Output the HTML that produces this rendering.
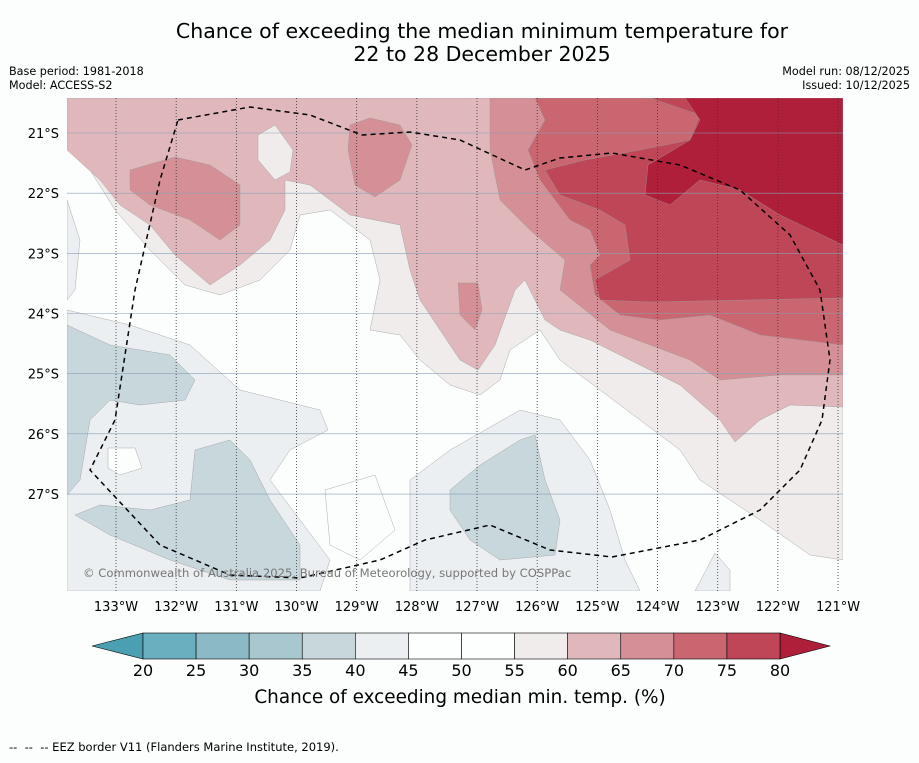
<!DOCTYPE html>
<html><head><meta charset="utf-8"><style>
body{margin:0;background:#fcfefe;font-family:"Liberation Sans",sans-serif;}
svg text{font-family:"DejaVu Sans","Liberation Sans",sans-serif;}
</style></head><body>
<svg id="s" width="919" height="758" xmlns="http://www.w3.org/2000/svg">
<rect width="919" height="758" fill="#fcfefe"/>
<text x="482" y="38" text-anchor="middle" font-size="20.5" fill="#000">Chance of exceeding the median minimum temperature for</text>
<text x="482" y="61" text-anchor="middle" font-size="20.5" fill="#000">22 to 28 December 2025</text>
<text x="9" y="75" font-size="11.2">Base period: 1981-2018</text>
<text x="9" y="89" font-size="11.2">Model: ACCESS-S2</text>
<text x="910" y="75" font-size="11.2" text-anchor="end">Model run: 08/12/2025</text>
<text x="910" y="89" font-size="11.2" text-anchor="end">Issued: 10/12/2025</text>
<defs><clipPath id="mc"><rect x="67" y="98" width="776" height="493"/></clipPath></defs>
<g id="map" clip-path="url(#mc)">
<rect x="67" y="98" width="776" height="493" fill="#fcfefe"/>
<g stroke="#999" stroke-width="0.4">
<polygon fill="#ebeff1" points="67,310 130,325 190,345 240,390 320,410 328,430 290,450 270,480 300,520 330,560 320,591 67,591"/>
<polygon fill="#ebeff1" points="67,200 80,240 75,290 67,300"/>
<polygon fill="#ebeff1" points="410,480 450,450 520,410 560,420 590,460 610,510 625,560 640,591 410,591"/>
<polygon fill="#ebeff1" points="695,591 715,553 730,570 730,591"/>
<polygon fill="#fcfefe" points="108,448 135,448 142,468 120,475 108,468"/>
<polygon fill="#fcfefe" points="325,490 375,475 395,530 360,560 330,545"/>
<polygon fill="#c8d7dc" points="67,325 110,345 170,355 195,380 185,400 140,405 110,400 90,420 80,480 67,495"/>
<polygon fill="#c8d7dc" points="75,515 100,505 150,510 190,500 195,450 230,440 250,460 270,500 300,545 300,580 230,580 170,560 110,535"/>
<polygon fill="#c8d7dc" points="450,490 480,465 520,440 535,435 545,480 560,520 555,555 500,560 470,540 450,510"/>
<polygon fill="#efeceb" points="67,125 90,170 115,210 150,250 185,285 220,295 260,280 290,250 300,215 330,210 370,240 380,280 370,330 400,335 420,360 450,385 480,395 500,380 510,350 540,330 560,360 600,390 640,420 680,450 700,480 760,520 810,555 843,560 843,98 67,98"/>
<polygon fill="#e0b8bc" points="67,98 67,150 100,180 120,205 150,225 175,255 210,285 240,265 270,240 285,210 285,180 310,185 350,215 400,225 410,270 420,300 440,330 460,360 478,370 495,345 515,290 525,280 545,320 560,330 590,340 630,360 680,385 720,420 735,442 760,420 790,405 843,407 843,98"/>
<polygon fill="#efeceb" points="258,135 275,125 293,150 290,172 275,180 258,160"/>
<polygon fill="#d58f96" points="130,170 175,157 210,165 240,185 240,225 220,240 190,220 150,205 130,190"/>
<polygon fill="#d58f96" points="350,125 370,118 400,125 412,145 400,180 375,197 355,185 348,150"/>
<polygon fill="#d58f96" points="458,283 478,283 482,310 475,330 460,315"/>
<polygon fill="#d58f96" points="490,98 843,98 843,375 780,375 720,380 690,360 650,345 610,330 585,310 560,290 565,260 530,230 500,200 490,150"/>
<polygon fill="#c96670" points="535,98 843,98 843,345 760,335 710,315 660,320 620,315 595,295 590,265 600,255 590,230 570,220 540,180 528,150 545,120"/>
<polygon fill="#bf4656" points="650,98 700,115 690,140 640,150 585,160 545,170 560,195 600,210 625,225 630,260 595,280 600,300 650,302 843,298 843,98"/>
<polygon fill="#b01f3a" points="685,98 843,98 843,245 780,215 740,190 700,180 670,205 645,195 648,165 690,140 700,120"/>
</g>
<g id="grid"></g>
<path fill="none" stroke="#000" stroke-width="1.5" stroke-dasharray="5,4" d="M178,120 L250,107 L310,115 L362,135 L410,132 L460,140 L525,170 L560,158 L612,153 L680,165 L740,190 L790,235 L820,290 L830,360 L822,420 L800,470 L760,510 L700,540 L612,557 L550,550 L490,525 L425,540 L380,560 L300,578 L230,575 L160,545 L90,470 L115,420 L135,290 L160,180 Z"/>
<text x="83" y="577" font-size="11.6" fill="#777">© Commonwealth of Australia 2025, Bureau of Meteorology, supported by COSPPac</text>
</g>
<g id="axes"></g>
<g id="cbar"></g>
<text x="460" y="703" text-anchor="middle" font-size="18.4">Chance of exceeding median min. temp. (%)</text>
<text x="9" y="751" font-size="11.5" xml:space="preserve">--  --  -- EEZ border V11 (Flanders Marine Institute, 2019).</text>
</svg>
<script>
const lonTicks=[133,132,131,130,129,128,127,126,125,124,123,122,121];
const latTicks=[21,22,23,24,25,26,27];
const levels=[20,25,30,35,40,45,50,55,60,65,70,75,80];
const colors=["#6aafbf","#8bbac6","#a9c7ce","#c8d7dc","#ebeff1","#fdfefe","#fdfefe","#efeceb","#e0b8bc","#d58f96","#c96670","#bf4656"];
const NS="http://www.w3.org/2000/svg";
const xLon=l=>116+(133-l)*60.17, yLat=l=>133+(l-21)*60.17;
const xLev=v=>143+(v-20)*(637/60);
function mk(t,a,p){const e=document.createElementNS(NS,t);for(const k in a)e.setAttribute(k,a[k]);p.appendChild(e);return e;}
const g=document.getElementById('grid'),ax=document.getElementById('axes'),cb=document.getElementById('cbar');
lonTicks.forEach(l=>{const x=xLon(l);
 const ln=mk('line',{x1:x,x2:x,y1:98,y2:591,stroke:'#333','stroke-width':0.8,'stroke-dasharray':'1,2'},g);
 
 
 const t=mk('text',{x:x,y:611,'text-anchor':'middle','font-size':13},ax);t.textContent=l+'°W';
 
 });
latTicks.forEach(l=>{const y=yLat(l);
 const ln=mk('line',{x1:67,x2:843,y1:y,y2:y,stroke:'#8aa0b4','stroke-width':0.6},g);
 
 
 const t=mk('text',{x:59,y:y+5,'text-anchor':'end','font-size':13},ax);t.textContent=l+'°S';
 
 });
const y0=633,y1=659;
const lt=mk('polygon',{points:`92,646 ${xLev(20)},${y0} ${xLev(20)},${y1}`,fill:'#4a9fb0',stroke:'#000','stroke-width':0.6},cb);


const rt=mk('polygon',{points:`830,646 ${xLev(80)},${y0} ${xLev(80)},${y1}`,fill:'#b01f3a',stroke:'#000','stroke-width':0.6},cb);


colors.forEach((c,i)=>{const r=mk('rect',{x:xLev(levels[i]),y:y0,width:xLev(levels[i+1])-xLev(levels[i]),height:y1-y0,fill:c,stroke:'#000','stroke-width':0.6},cb);
 
 });
levels.forEach(v=>{const t=mk('text',{x:xLev(v),y:676,'text-anchor':'middle','font-size':16},cb);t.textContent=v;
 
 });
</script>
</body></html>
